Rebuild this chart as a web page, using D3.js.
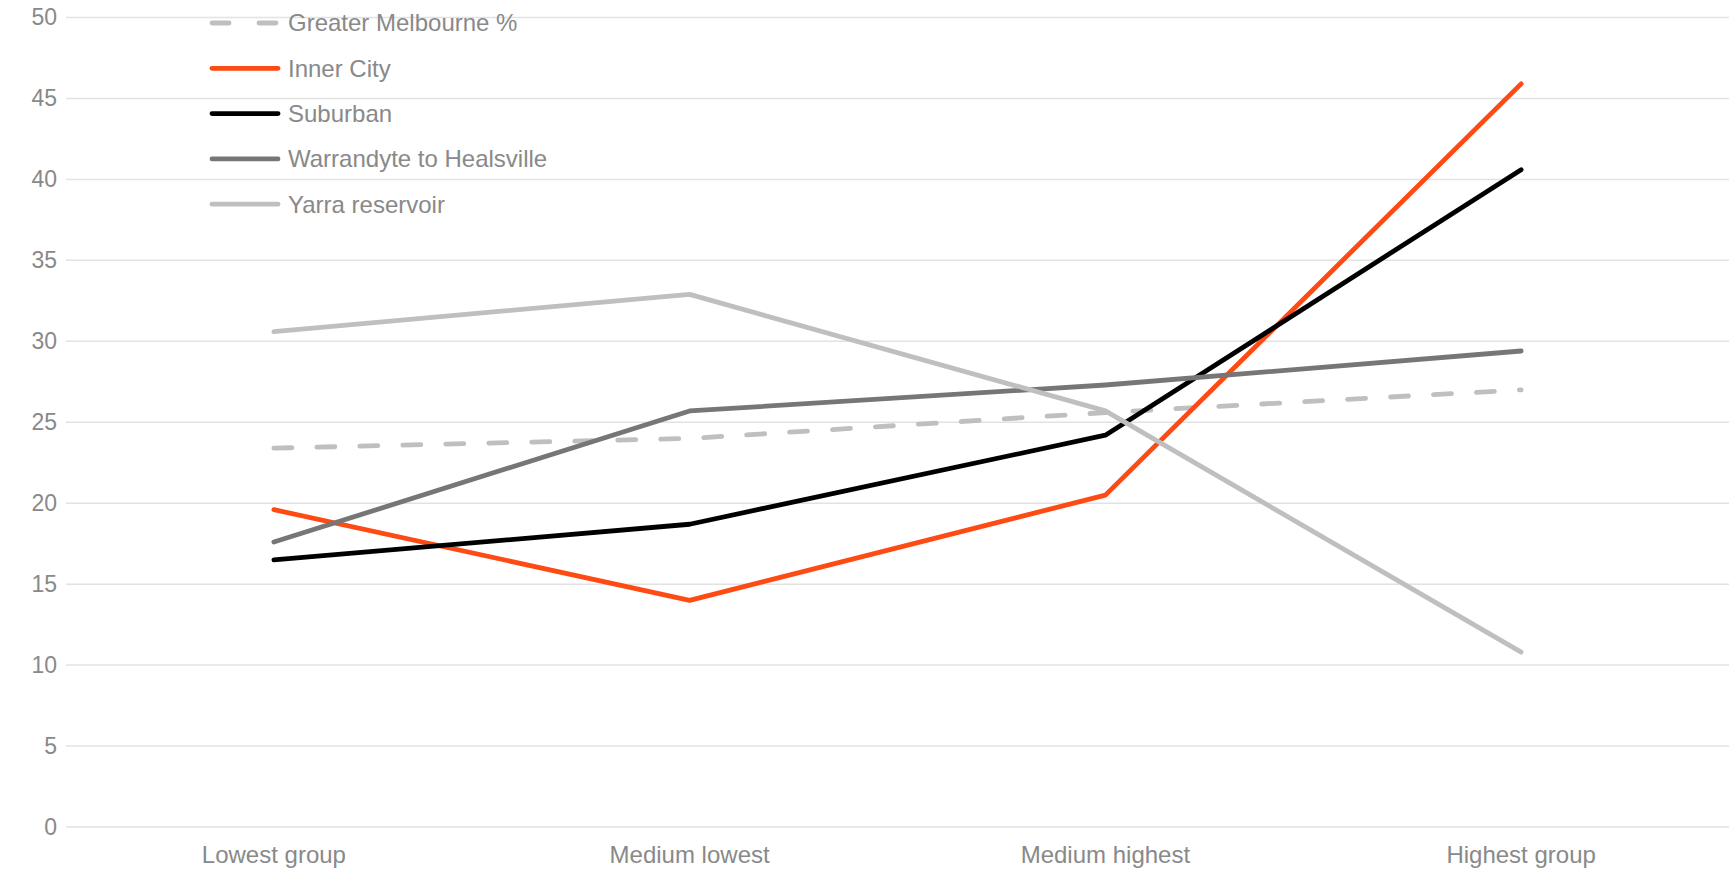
<!DOCTYPE html>
<html>
    <head>
        <meta charset="utf-8">
        <script src="https://d3js.org/d3.v7.min.js"></script>
        <style>
            body { margin: 0; background: white; }
            text { font-family: "Liberation Sans", Arial, sans-serif; fill: #898989; }
        </style>
    </head>
    <body>
        <div id="chart"></div>
    </body>
    <script>
        const categories = ['Lowest group', 'Medium lowest', 'Medium highest', 'Highest group'];
        const yTicks = [0, 5, 10, 15, 20, 25, 30, 35, 40, 45, 50];

        const seriesNames = ['Greater Melbourne %', 'Inner City', 'Suburban', 'Warrandyte to Healsville', 'Yarra reservoir'];
        const greaterMelbourne = [23.4, 24.0, 25.6, 27.0];
        const innerCity = [19.6, 14.0, 20.5, 45.9];
        const suburban = [16.5, 18.7, 24.2, 40.6];
        const warrandyte = [17.6, 25.7, 27.3, 29.4];
        const yarraReservoir = [30.6, 32.9, 25.7, 10.8];

        const series = [
            { name: seriesNames[0], values: greaterMelbourne, color: '#bfbfbf', dash: '18,25' },
            { name: seriesNames[1], values: innerCity, color: '#fe4a13', dash: null },
            { name: seriesNames[2], values: suburban, color: '#000000', dash: null },
            { name: seriesNames[3], values: warrandyte, color: '#767676', dash: null },
            { name: seriesNames[4], values: yarraReservoir, color: '#bfbfbf', dash: null }
        ];

        const svgWidth = 1729;
        const svgHeight = 870;
        const plotLeft = 66;
        const plotRight = 1729;
        const plotTop = 17.5;
        const plotBottom = 827;

        const svg = d3.select('#chart')
            .append('svg')
            .attr('width', svgWidth)
            .attr('height', svgHeight)

        const xScale = d3.scaleBand()
            .domain(categories)
            .range([plotLeft, plotRight])

        const yScale = d3.scaleLinear()
            .domain([0, 50])
            .range([plotBottom, plotTop])

        // gridlines
        svg.append('g')
            .selectAll('line')
            .data(yTicks)
            .enter()
            .append('line')
            .attr('x1', plotLeft)
            .attr('x2', plotRight)
            .attr('y1', d => yScale(d))
            .attr('y2', d => yScale(d))
            .attr('stroke', '#e2e2e2')
            .attr('stroke-width', 1.5)

        const yAxis = d3.axisLeft(yScale).tickValues(yTicks).tickSize(0).tickPadding(9);
        svg.append('g')
            .attr('transform', `translate(${plotLeft}, 0)`)
            .call(yAxis)
            .call(g => g.select('.domain').remove())
            .selectAll('text')
            .style('font-size', '23px')
            .attr('fill', '#898989')

        const xAxis = d3.axisBottom(xScale).tickSize(0).tickPadding(19);
        svg.append('g')
            .attr('transform', `translate(0, ${plotBottom})`)
            .call(xAxis)
            .call(g => g.select('.domain').remove())
            .selectAll('text')
            .style('font-size', '24px')
            .attr('fill', '#898989')

        const line = d3.line()
            .x((d, i) => xScale(categories[i]) + xScale.bandwidth() / 2)
            .y(d => yScale(d))

        svg.append('g')
            .selectAll('path')
            .data(series)
            .enter()
            .append('path')
            .attr('d', d => line(d.values))
            .attr('fill', 'none')
            .attr('stroke', d => d.color)
            .attr('stroke-width', 4.8)
            .attr('stroke-linecap', 'round')
            .attr('stroke-linejoin', 'round')
            .attr('stroke-dasharray', d => d.dash)

        // legend
        const legend = svg.append('g')
            .selectAll('g')
            .data(series)
            .enter()
            .append('g')
            .attr('transform', (d, i) => `translate(212, ${23 + i * 45.3})`)

        legend.append('line')
            .attr('x1', 0)
            .attr('x2', 66)
            .attr('stroke', d => d.color)
            .attr('stroke-width', 4.8)
            .attr('stroke-linecap', 'round')
            .attr('stroke-dasharray', d => d.dash ? '17,30' : null)

        legend.append('text')
            .attr('x', 76)
            .attr('dy', '0.35em')
            .style('font-size', '24px')
            .text(d => d.name)
    </script>
</html>
